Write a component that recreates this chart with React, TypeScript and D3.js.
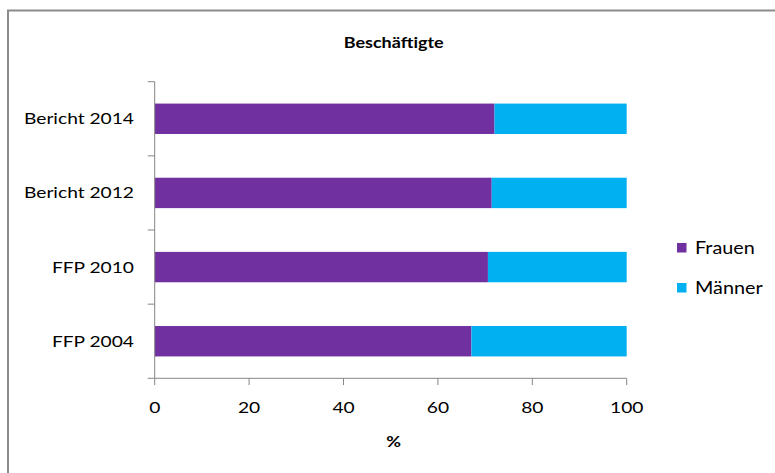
import React, { useEffect, useRef } from "react";
import * as d3 from "d3";

const categories = ["Bericht 2014", "Bericht 2012", "FFP 2010", "FFP 2004"];
const frauen = [72.0, 71.4, 70.6, 67.1];
const maenner = [28.0, 28.6, 29.4, 32.9];
const seriesNames = ["Frauen", "Männer"];
const xTicks = [0, 20, 40, 60, 80, 100];
const title = "Beschäftigte";
const xTitle = "%";

const COLORS = ["#7030A0", "#00B0F0"];
const FONT = "Lato, 'Open Sans', sans-serif";
const SX = 1.2;

export default function App() {
  const ref = useRef<SVGSVGElement>(null);
  useEffect(() => {
    const svg = d3.select(ref.current);
    svg.selectAll("*").remove();

    const x = d3.scaleLinear().domain([0, 100]).range([154.7, 626.7]);
    const y = d3.scaleBand().domain(categories).range([81.7, 378.3]).paddingInner(0.59).paddingOuter(0.295);

    const txt = (g: any, s: string, px: number, py: number, anchor: string, size: number, weight = "normal") =>
      g.append("text")
        .attr("transform", `translate(${px},${py}) scale(${SX},1)`)
        .attr("text-anchor", anchor)
        .attr("font-family", FONT)
        .attr("font-size", size)
        .attr("font-weight", weight)
        .attr("fill", "#000")
        .text(s);

    // frame
    svg.append("rect").attr("x", 8).attr("y", 10.5).attr("width", 800).attr("height", 500)
      .attr("fill", "#fff").attr("stroke", "#8c8c8c").attr("stroke-width", 2);

    txt(svg, title, 393.7, 47.7, "middle", 15, "bold");

    // bars
    const stack = categories.map((c, i) => ({ c, vals: [frauen[i], maenner[i]] }));
    stack.forEach((d) => {
      let acc = 0;
      d.vals.forEach((v, k) => {
        svg.append("rect")
          .attr("x", x(acc)).attr("y", y(d.c)!)
          .attr("width", x(acc + v) - x(acc)).attr("height", y.bandwidth())
          .attr("fill", COLORS[k]);
        acc += v;
      });
    });

    const axisColor = "#868686";
    // y axis
    const step = y.step();
    const y0 = 81.7;
    svg.append("line").attr("x1", x(0)).attr("x2", x(0)).attr("y1", y0).attr("y2", 378.3)
      .attr("stroke", axisColor).attr("stroke-width", 1);
    d3.range(categories.length + 1).forEach((i) => {
      const yy = y0 + i * step;
      svg.append("line").attr("x1", x(0) - 7).attr("x2", x(0)).attr("y1", yy).attr("y2", yy)
        .attr("stroke", axisColor);
    });
    categories.forEach((c) => {
      txt(svg, c, 134, y(c)! + y.bandwidth() / 2 + 5.5, "end", 16);
    });

    // x axis
    svg.append("line").attr("x1", x(0)).attr("x2", x(100)).attr("y1", 378.3).attr("y2", 378.3)
      .attr("stroke", axisColor);
    xTicks.forEach((t) => {
      svg.append("line").attr("x1", x(t)).attr("x2", x(t)).attr("y1", 378.3).attr("y2", 385)
        .attr("stroke", axisColor);
      txt(svg, String(t), x(t), 413, "middle", 16);
    });
    txt(svg, xTitle, 393.5, 447, "middle", 15, "bold");

    // legend
    seriesNames.forEach((s, i) => {
      const ly = 243 + i * 40;
      svg.append("rect").attr("x", 677).attr("y", ly).attr("width", 9.5).attr("height", 9.5).attr("fill", COLORS[i]);
      txt(svg, s, 695, ly + 11, "start", 16.5);
    });
  }, []);
  return (
    <svg ref={ref} width={775} height={473}
      style={{ position: "absolute", left: 0, top: 0, background: "#fff" }} />
  );
}
